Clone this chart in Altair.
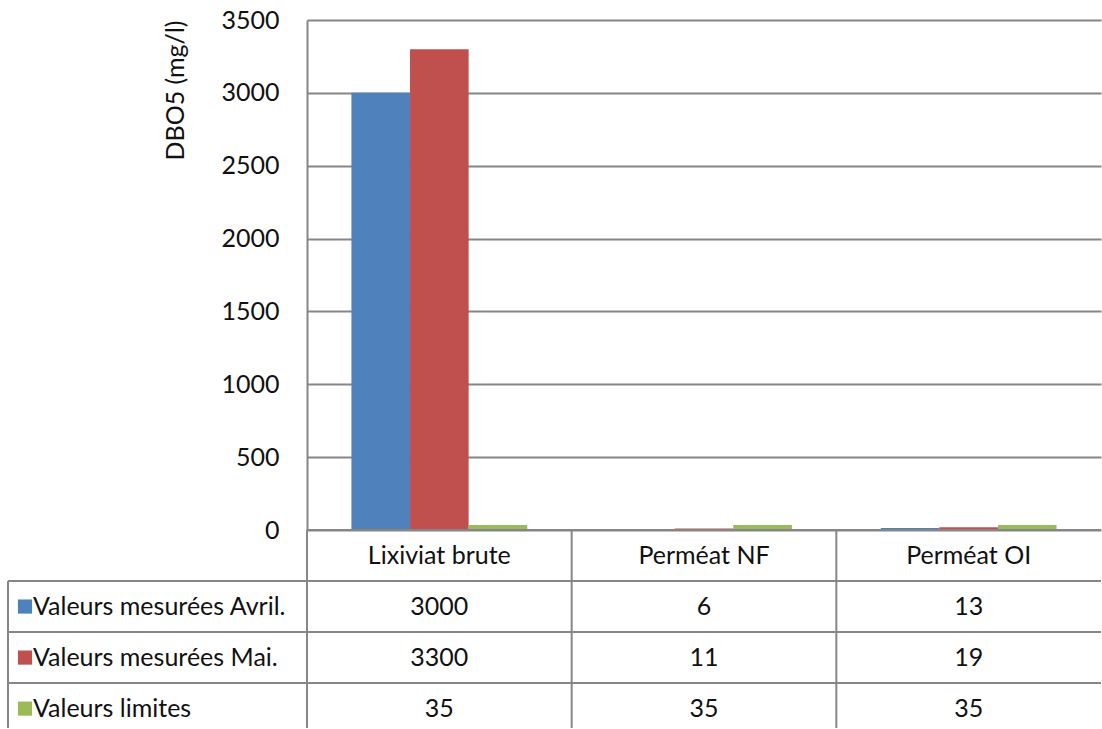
import altair as alt
import pandas as pd

# Mesures de DBO5 par point de prélèvement
categories = ["Lixiviat brute", "Perméat NF", "Perméat OI"]
series = ["Valeurs mesurées Avril.", "Valeurs mesurées Mai.", "Valeurs limites"]
avril = [3000, 6, 13]
mai = [3300, 11, 19]
limites = [35, 35, 35]
colors = ["#4F81BD", "#C0504D", "#9BBB59"]
y_ticks = [0, 500, 1000, 1500, 2000, 2500, 3000, 3500]

values_by_series = [avril, mai, limites]

records = []
for s, vals in zip(series, values_by_series):
    for c, v in zip(categories, vals):
        records.append({"categorie": c, "serie": s, "valeur": v})
df = pd.DataFrame(records)

# Layout constants
W = 794
H_PLOT = 510
H_TABLE = 198
ROW_VISIBLE = 3.88          # the last table row is partly below the frame
LABEL_W = 299 / (W / 3)     # width of the legend column, in column units
GRID = "#868686"
TXT = "#111111"
FONT = "Lato"
FS = 25

color_scale = alt.Scale(domain=series, range=colors)

bars = alt.Chart(df).mark_bar().encode(
    x=alt.X("categorie:N", sort=categories,
            scale=alt.Scale(paddingInner=0, paddingOuter=0), axis=None),
    xOffset=alt.XOffset("serie:N", sort=series,
                        scale=alt.Scale(paddingInner=0, paddingOuter=0.758)),
    y=alt.Y("valeur:Q",
            scale=alt.Scale(domain=[0, 3500], nice=False),
            axis=alt.Axis(values=y_ticks, format="d", title="DBO5 (mg/l)",
                          ticks=False, labelPadding=28, labelFontSize=FS,
                          labelColor=TXT, labelFont=FONT, titleFont=FONT,
                          titleFontSize=FS, titleFontWeight="normal",
                          titleColor=TXT, titleAnchor="end", titlePadding=32,
                          domainColor=GRID, domainWidth=2,
                          gridColor=GRID, gridWidth=2)),
    color=alt.Color("serie:N", scale=color_scale, legend=None),
).properties(width=W, height=H_PLOT)

# ---- data table under the plot ----
cells = []
for j, c in enumerate(categories):
    cells.append({"cx": j + 0.5, "cy": 0.5, "txt": c})
    for i, vals in enumerate(values_by_series):
        cells.append({"cx": j + 0.5, "cy": i + 1.5, "txt": str(vals[j])})
cells_df = pd.DataFrame(cells)

labels_df = pd.DataFrame({
    "cx": [-LABEL_W] * len(series),
    "cy": [i + 1.5 for i in range(len(series))],
    "serie": series,
})

hlines = pd.DataFrame({
    "x0": [0] + [-LABEL_W] * len(series),
    "x1": [3] * (len(series) + 1),
    "yy": list(range(len(series) + 1)),
})
vlines = pd.DataFrame({
    "xx": [-LABEL_W, 0, 1, 2],
    "y0": [1, 0, 0, 0],
    "y1": [ROW_VISIBLE] * 4,
})

tx = alt.Scale(domain=[0, 3], nice=False, zero=False)
ty = alt.Scale(domain=[0, ROW_VISIBLE], nice=False, zero=False, reverse=True)

h_rules = alt.Chart(hlines).mark_rule(color=GRID, strokeWidth=2).encode(
    x=alt.X("x0:Q", scale=tx, axis=None), x2="x1:Q",
    y=alt.Y("yy:Q", scale=ty, axis=None),
)
v_rules = alt.Chart(vlines).mark_rule(color=GRID, strokeWidth=2).encode(
    x=alt.X("xx:Q", scale=tx, axis=None),
    y=alt.Y("y0:Q", scale=ty, axis=None), y2="y1:Q",
)
cell_text = alt.Chart(cells_df).mark_text(
    font=FONT, fontSize=FS, color=TXT, baseline="middle", align="center"
).encode(
    x=alt.X("cx:Q", scale=tx, axis=None),
    y=alt.Y("cy:Q", scale=ty, axis=None),
    text="txt:N",
)
squares = alt.Chart(labels_df).mark_square(size=200, opacity=1, xOffset=17).encode(
    x=alt.X("cx:Q", scale=tx, axis=None),
    y=alt.Y("cy:Q", scale=ty, axis=None),
    color=alt.Color("serie:N", scale=color_scale, legend=None),
)
label_text = alt.Chart(labels_df).mark_text(
    font=FONT, fontSize=FS, color=TXT, baseline="middle", align="left", dx=25
).encode(
    x=alt.X("cx:Q", scale=tx, axis=None),
    y=alt.Y("cy:Q", scale=ty, axis=None),
    text="serie:N",
)

table = alt.layer(h_rules, v_rules, squares, cell_text, label_text).properties(
    width=W, height=H_TABLE
)

chart = alt.vconcat(bars, table, spacing=0, bounds="flush").resolve_scale(
    x="independent", y="independent", color="shared"
).properties(
    padding={"left": 7, "top": 8, "right": 0, "bottom": 0},
    background="white",
).configure_view(stroke=None)

chart.save("out.html", embed_options={"renderer": "svg", "actions": False})
